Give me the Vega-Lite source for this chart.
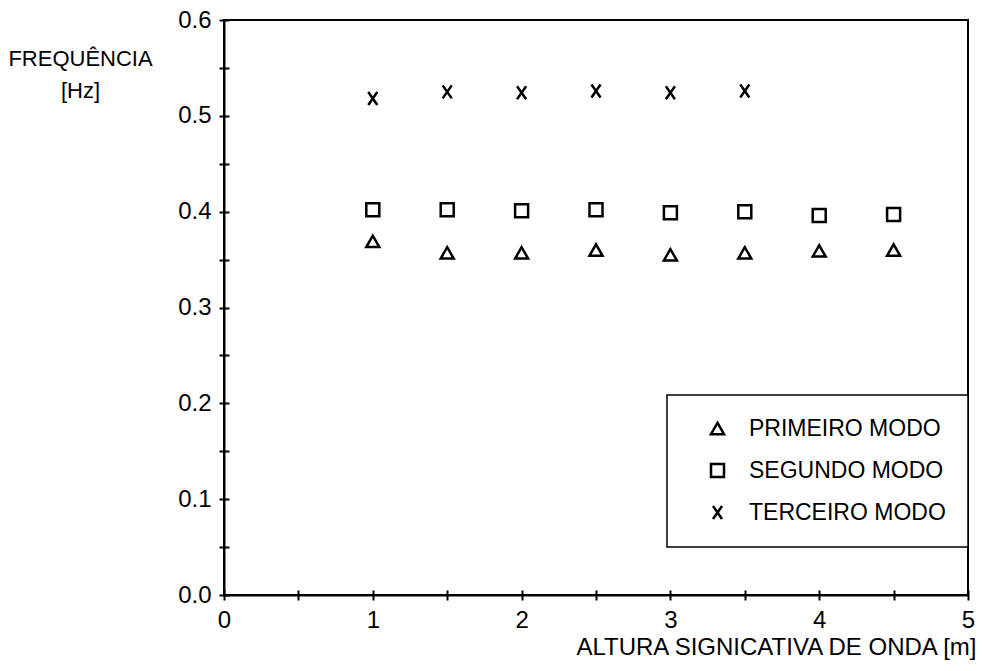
{
  "$schema": "https://vega.github.io/schema/vega-lite/v6.json",
  "width": 744,
  "height": 575,
  "autosize": "none",
  "padding": {"left": 224, "top": 20, "right": 14, "bottom": 76},
  "background": "white",
  "config": {
    "view": {"stroke": "black", "strokeWidth": 2},
    "font": "Liberation Sans",
    "axis": {
      "domainColor": "black", "domainWidth": 2, "tickColor": "black", "tickWidth": 2,
      "grid": false, "labelFont": "Liberation Sans", "labelFontSize": 24, "labelColor": "black",
      "titleColor": "black", "titleFontWeight": "normal", "titleFont": "Liberation Sans"
    },
    "legend": {
      "strokeColor": "black", "strokeWidth": 1.5, "fillColor": "white", "padding": 22,
      "labelFont": "Liberation Sans", "labelFontSize": 23, "labelColor": "black", "labelLimit": 0,
      "symbolSize": 169, "symbolStrokeWidth": 2.5, "symbolStrokeColor": "black",
      "symbolFillColor": "transparent", "rowPadding": 18, "labelOffset": 20, "symbolOffset": 17
    }
  },
  "data": {
    "values": [
      {"h": 1, "f": 0.369, "modo": "PRIMEIRO MODO"},
      {"h": 1.5, "f": 0.357, "modo": "PRIMEIRO MODO"},
      {"h": 2, "f": 0.357, "modo": "PRIMEIRO MODO"},
      {"h": 2.5, "f": 0.360, "modo": "PRIMEIRO MODO"},
      {"h": 3, "f": 0.355, "modo": "PRIMEIRO MODO"},
      {"h": 3.5, "f": 0.357, "modo": "PRIMEIRO MODO"},
      {"h": 4, "f": 0.359, "modo": "PRIMEIRO MODO"},
      {"h": 4.5, "f": 0.360, "modo": "PRIMEIRO MODO"},
      {"h": 1, "f": 0.402, "modo": "SEGUNDO MODO"},
      {"h": 1.5, "f": 0.402, "modo": "SEGUNDO MODO"},
      {"h": 2, "f": 0.401, "modo": "SEGUNDO MODO"},
      {"h": 2.5, "f": 0.402, "modo": "SEGUNDO MODO"},
      {"h": 3, "f": 0.399, "modo": "SEGUNDO MODO"},
      {"h": 3.5, "f": 0.400, "modo": "SEGUNDO MODO"},
      {"h": 4, "f": 0.396, "modo": "SEGUNDO MODO"},
      {"h": 4.5, "f": 0.397, "modo": "SEGUNDO MODO"},
      {"h": 1, "f": 0.518, "modo": "TERCEIRO MODO"},
      {"h": 1.5, "f": 0.525, "modo": "TERCEIRO MODO"},
      {"h": 2, "f": 0.524, "modo": "TERCEIRO MODO"},
      {"h": 2.5, "f": 0.526, "modo": "TERCEIRO MODO"},
      {"h": 3, "f": 0.524, "modo": "TERCEIRO MODO"},
      {"h": 3.5, "f": 0.526, "modo": "TERCEIRO MODO"}
    ]
  },
  "layer": [
    {
      "transform": [{"filter": "datum.modo !== 'TERCEIRO MODO'"}],
      "mark": {"type": "point", "filled": false, "color": "black", "strokeWidth": 2.5, "size": 169, "opacity": 1},
      "encoding": {
        "x": {
          "field": "h", "type": "quantitative",
          "scale": {"domain": [0, 5], "nice": false},
          "axis": {
            "orient": "bottom",
            "values": [0, 0.5, 1, 1.5, 2, 2.5, 3, 3.5, 4, 4.5, 5],
            "labelExpr": "datum.value % 1 == 0 ? format(datum.value, 'd') : ''",
            "tickSize": 5, "labelPadding": 8, "labelFlush": false,
            "title": "ALTURA SIGNICATIVA DE ONDA [m]", "titleFontSize": 24,
            "titleAnchor": "end", "titleAlign": "right", "titleBaseline": "middle",
            "titleX": 752, "titleY": 52
          }
        },
        "y": {
          "field": "f", "type": "quantitative",
          "scale": {"domain": [0, 0.6], "nice": false, "zero": true},
          "axis": {
            "orient": "left",
            "values": [0, 0.05, 0.1, 0.15, 0.2, 0.25, 0.3, 0.35, 0.4, 0.45, 0.5, 0.55, 0.6],
            "labelExpr": "round(datum.value * 100) % 10 == 0 ? format(datum.value, '.1f') : ''",
            "tickSize": 5, "labelPadding": 8, "labelFlush": false,
            "title": ["FREQUÊNCIA", "[Hz]"], "titleFontSize": 22, "titleAngle": 0,
            "titleAlign": "center", "titleBaseline": "alphabetic",
            "titleX": -144, "titleY": 45, "titleLineHeight": 32
          }
        },
        "shape": {
          "field": "modo", "type": "nominal",
          "scale": {
            "domain": ["PRIMEIRO MODO", "SEGUNDO MODO", "TERCEIRO MODO"],
            "range": ["triangle-up", "square", "M-0.7,-1L0.7,1M0.7,-1L-0.7,1"]
          },
          "legend": {"title": null, "orient": "none", "legendX": 443, "legendY": 375}
        }
      }
    },
    {
      "transform": [{"filter": "datum.modo === 'TERCEIRO MODO'"}],
      "mark": {"type": "point", "filled": false, "color": "black", "strokeWidth": 2.5, "size": 169, "opacity": 1},
      "encoding": {
        "x": {
          "field": "h", "type": "quantitative",
          "axis": {
            "orient": "bottom",
            "values": [0, 0.5, 1, 1.5, 2, 2.5, 3, 3.5, 4, 4.5, 5],
            "tickSize": -5, "labels": false, "domain": false, "title": null
          }
        },
        "y": {
          "field": "f", "type": "quantitative",
          "axis": {
            "orient": "left",
            "values": [0, 0.05, 0.1, 0.15, 0.2, 0.25, 0.3, 0.35, 0.4, 0.45, 0.5, 0.55, 0.6],
            "tickSize": -5, "labels": false, "domain": false, "title": null
          }
        },
        "shape": {"field": "modo", "type": "nominal"}
      }
    }
  ],
  "resolve": {"axis": {"x": "independent", "y": "independent"}}
}
